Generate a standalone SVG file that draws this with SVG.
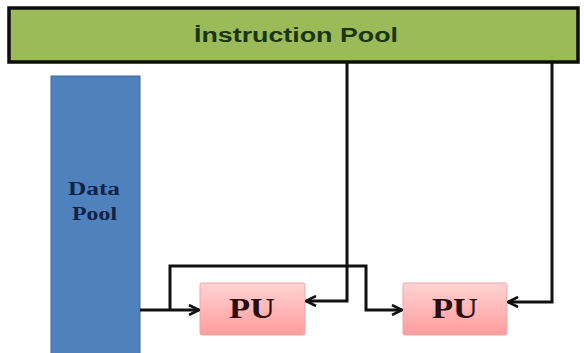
<svg xmlns="http://www.w3.org/2000/svg" width="584" height="353" viewBox="0 0 584 353">
  <style>
    .wire { fill: none; stroke: #111; stroke-width: 3; stroke-linejoin: miter; }
    .pu-box { fill: url(#puFill); stroke: #eaa7a7; stroke-width: 1; }
    .pu-label { font-family: "Liberation Serif", serif; font-weight: bold; font-size: 30px; fill: #2a0d0d; text-anchor: middle; }
  </style>
  <defs>
    <linearGradient id="puFill" x1="0" y1="0" x2="0" y2="1">
      <stop offset="0" stop-color="#ffd3d3"/>
      <stop offset="1" stop-color="#ff9c9c"/>
    </linearGradient>
    <marker id="chev" viewBox="0 0 12 12" refX="11" refY="6" markerWidth="12" markerHeight="12" markerUnits="userSpaceOnUse" orient="auto">
      <path d="M1,1 L11,6 L1,11" fill="none" stroke="#111" stroke-width="2.6"/>
    </marker>
  </defs>

  <rect width="584" height="353" fill="#ffffff"/>

  <g id="instruction-pool">
    <rect x="9" y="8" width="569" height="54" fill="#9bbb59" stroke="#0d0d0d" stroke-width="3.5"/>
    <text x="296" y="42" font-family="'Liberation Sans', Arial, sans-serif" font-weight="bold" font-size="20" fill="#1c3510" text-anchor="middle" textLength="204" lengthAdjust="spacingAndGlyphs">İnstruction Pool</text>
  </g>

  <g id="data-pool">
    <rect x="51" y="76" width="89" height="280" fill="#4f81bd" stroke="#41699a" stroke-width="1"/>
    <text font-family="'Liberation Serif', serif" font-weight="bold" font-size="18" fill="#112244">
      <tspan x="68" y="195" textLength="52" lengthAdjust="spacingAndGlyphs">Data</tspan>
      <tspan x="72" y="220" textLength="45" lengthAdjust="spacingAndGlyphs">Pool</tspan>
    </text>
  </g>

  <g id="pu-1">
    <rect class="pu-box" x="200" y="283" width="105" height="52" rx="2"/>
    <text class="pu-label" x="252" y="318" textLength="46" lengthAdjust="spacingAndGlyphs">PU</text>
  </g>

  <g id="pu-2">
    <rect class="pu-box" x="403" y="283" width="104" height="52" rx="2"/>
    <text class="pu-label" x="455" y="318" textLength="46" lengthAdjust="spacingAndGlyphs">PU</text>
  </g>

  <g id="connectors">
    <!-- data pool to first PU -->
    <path class="wire" d="M140,310 L199,310" marker-end="url(#chev)"/>
    <!-- data branch over to second PU -->
    <path class="wire" d="M170,310 L170,266 L366,266 L366,310 L402,310" marker-end="url(#chev)"/>
    <!-- instruction feed to first PU -->
    <path class="wire" d="M347,62 L347,301 L306,301" marker-end="url(#chev)"/>
    <!-- instruction feed to second PU -->
    <path class="wire" d="M552,62 L552,302 L508,302" marker-end="url(#chev)"/>
  </g>
</svg>
